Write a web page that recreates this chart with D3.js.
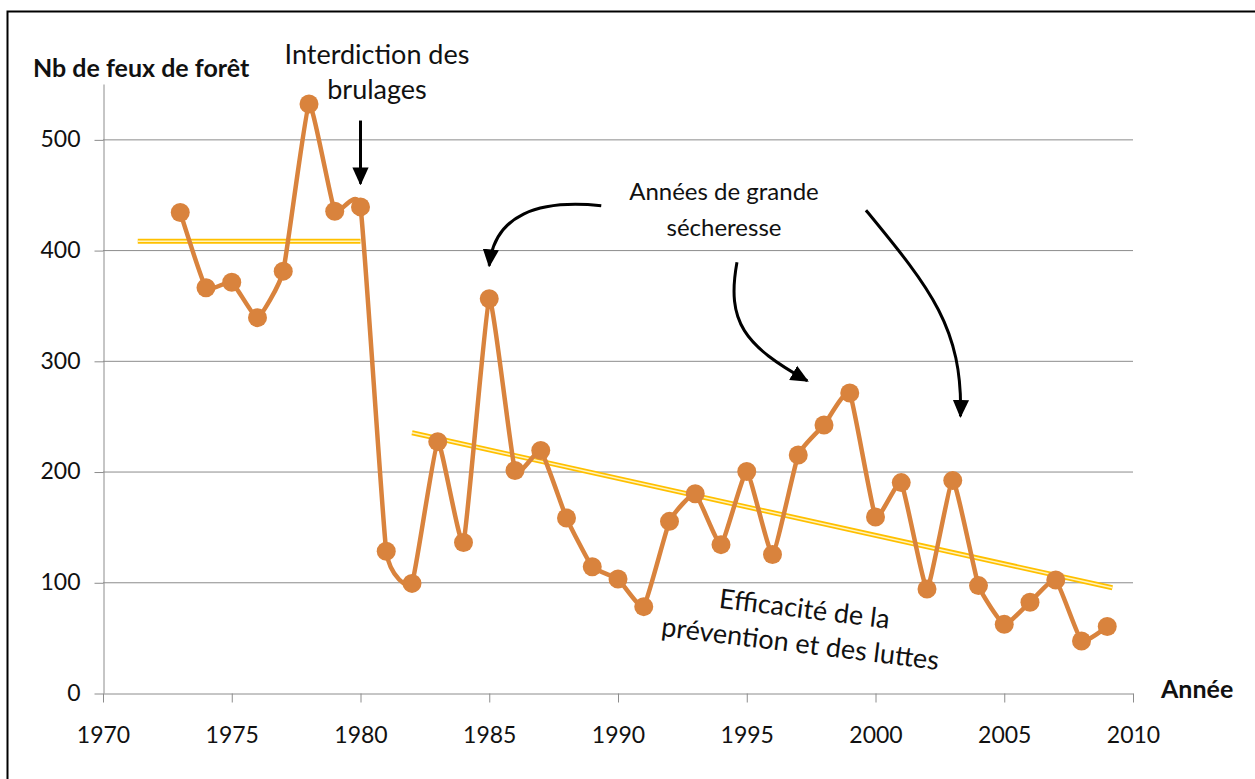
<!DOCTYPE html>
<html>
<head>
<meta charset="utf-8">
<script src="https://cdn.jsdelivr.net/npm/d3@7"></script>
<style>
  body { margin: 0; background: #fff; }
  text { font-family: Lato, "Open Sans", sans-serif; fill: #111; }
</style>
</head>
<body>
<div id="chart"></div>
<script>
'use strict';

// data
const years = [1973, 1974, 1975, 1976, 1977, 1978, 1979, 1980, 1981, 1982,
               1983, 1984, 1985, 1986, 1987, 1988, 1989, 1990, 1991, 1992,
               1993, 1994, 1995, 1996, 1997, 1998, 1999, 2000, 2001, 2002,
               2003, 2004, 2005, 2006, 2007, 2008, 2009];
const fires = [434, 366, 371, 339, 381, 532, 435, 439, 128, 99,
               227, 136, 356, 201, 219, 158, 114, 103, 78, 155,
               180, 134, 200, 125, 215, 242, 271, 159, 190, 94,
               192, 97, 62, 82, 102, 47, 60];
const yTicks = [0, 100, 200, 300, 400, 500];
const xTicks = [1970, 1975, 1980, 1985, 1990, 1995, 2000, 2005, 2010];
// trend lines [year, value]
const trendBefore = [[1971.35, 408], [1980, 408]];
const trendAfter = [[1982, 235], [2009.2, 95]];

const W = 1255, H = 779;
const margin = { top: 84, right: 122, bottom: 86, left: 103 };
const width = W - margin.left - margin.right;
const height = H - margin.top - margin.bottom;

const svg = d3.select("#chart")
    .append("svg")
    .attr("width", W)
    .attr("height", H);

// outer frame (only top & left edges show)
svg.append("rect")
    .attr("x", 7.5).attr("y", 11.5)
    .attr("width", W + 20).attr("height", H + 20)
    .attr("fill", "none")
    .attr("stroke", "#000")
    .attr("stroke-width", 2);

const g = svg.append("g")
    .attr("transform", `translate(${margin.left},${margin.top})`);

const x = d3.scaleLinear().domain([1970, 2010]).range([0, width]);
const y = d3.scaleLinear().domain([0, 550]).range([height, 0]);

// gridlines
g.selectAll(".grid")
    .data(yTicks.filter(d => d > 0))
    .enter()
    .append("line")
    .attr("class", "grid")
    .attr("x1", 0).attr("x2", width)
    .attr("y1", d => y(d) + 0.5).attr("y2", d => y(d) + 0.5)
    .attr("stroke", "#8c8c8c")
    .attr("stroke-width", 1);

// y axis
const yAxis = g.append("g")
    .attr("class", "y-axis")
    .attr("transform", "translate(0.5,0)")
    .call(d3.axisLeft(y).tickValues(yTicks).tickSize(9).tickSizeOuter(0).tickPadding(14));
yAxis.select(".domain").attr("stroke", "#8c8c8c");
yAxis.selectAll(".tick line").attr("stroke", "#8c8c8c").attr("transform", "translate(0,0.5)");
yAxis.selectAll("text").style("font-size", "23px").attr("fill", "#111");

// x axis
const xAxis = g.append("g")
    .attr("class", "x-axis")
    .attr("transform", `translate(0,${height + 0.5})`)
    .call(d3.axisBottom(x).tickValues(xTicks).tickFormat(d3.format("d")).tickSize(9).tickSizeOuter(0).tickPadding(24));
xAxis.select(".domain").attr("stroke", "#8c8c8c");
xAxis.selectAll(".tick line").attr("stroke", "#8c8c8c");
xAxis.selectAll("text").style("font-size", "23px").attr("fill", "#111");

// trend lines (double yellow)
function drawTrend(pts) {
    const line = d3.line().x(d => x(d[0])).y(d => y(d[1]));
    g.append("path").datum(pts)
        .attr("d", line)
        .attr("fill", "none")
        .attr("stroke", "#ffc000")
        .attr("stroke-width", 5);
    g.append("path").datum(pts)
        .attr("d", line)
        .attr("fill", "none")
        .attr("stroke", "#fff3c0")
        .attr("stroke-width", 1.5);
}
drawTrend(trendBefore);
drawTrend(trendAfter);

// series
const series = years.map((yr, i) => ({ year: yr, value: fires[i] }));
const orange = "#d9833d";

g.append("path")
    .datum(series)
    .attr("fill", "none")
    .attr("stroke", orange)
    .attr("stroke-width", 4.5)
    .attr("stroke-linejoin", "round")
    .attr("d", d3.line()
        .x(d => x(d.year))
        .y(d => y(d.value))
        .curve(d3.curveCardinal.tension(0.6)));

g.selectAll(".dot")
    .data(series)
    .enter()
    .append("circle")
    .attr("class", "dot")
    .attr("cx", d => x(d.year))
    .attr("cy", d => y(d.value))
    .attr("r", 9.5)
    .attr("fill", orange);

// arrowhead marker
svg.append("defs").append("marker")
    .attr("id", "arrow")
    .attr("viewBox", "0 0 10 10")
    .attr("refX", 9).attr("refY", 5)
    .attr("markerUnits", "userSpaceOnUse")
    .attr("markerWidth", 18).attr("markerHeight", 18)
    .attr("orient", "auto")
    .append("path")
    .attr("d", "M0,0.5 L10,5 L0,9.5 Z")
    .attr("fill", "#000");

// annotation arrows, given as [year, value] points (start, ctrl1, ctrl2, end)
const arrows = [
    [[1980, 517], [1980, 460]],
    [[1989.35, 440], [1986.9, 446], [1985.2, 432], [1985, 386]],
    [[1994.62, 389], [1994.2, 335], [1994.9, 314], [1997.35, 282]],
    [[1999.63, 436], [2002.1, 366], [2003.4, 330], [2003.3, 250]]
];
arrows.forEach(a => {
    const p = a.map(d => [x(d[0]), y(d[1])]);
    const d = p.length === 2
        ? `M${p[0]}L${p[1]}`
        : `M${p[0]}C${p[1]} ${p[2]} ${p[3]}`;
    g.append("path")
        .attr("d", d)
        .attr("fill", "none")
        .attr("stroke", "#000")
        .attr("stroke-width", 3)
        .attr("marker-end", "url(#arrow)");
});

// titles
svg.append("text")
    .attr("x", 33).attr("y", 77)
    .style("font-size", "25px").style("font-weight", "bold")
    .text("Nb de feux de forêt");

svg.append("text")
    .attr("x", 1161).attr("y", 698)
    .style("font-size", "25px").style("font-weight", "bold")
    .text("Année");

// annotation texts
function multiline(cx, cy, lines, size, lineH) {
    const t = svg.append("text")
        .attr("x", cx).attr("y", cy)
        .attr("text-anchor", "middle")
        .style("font-size", size + "px");
    lines.forEach((l, i) => t.append("tspan").attr("x", cx).attr("dy", i ? lineH : 0).text(l));
    return t;
}
multiline(377, 64, ["Interdiction des", "brulages"], 27, 35);
multiline(724, 200, ["Années de grande", "sécheresse"], 24, 36);
multiline(802, 618, ["Efficacité de la", "prévention et des luttes"], 27, 35)
    .attr("transform", "rotate(7, 802, 630)");
</script>
</body>
</html>
